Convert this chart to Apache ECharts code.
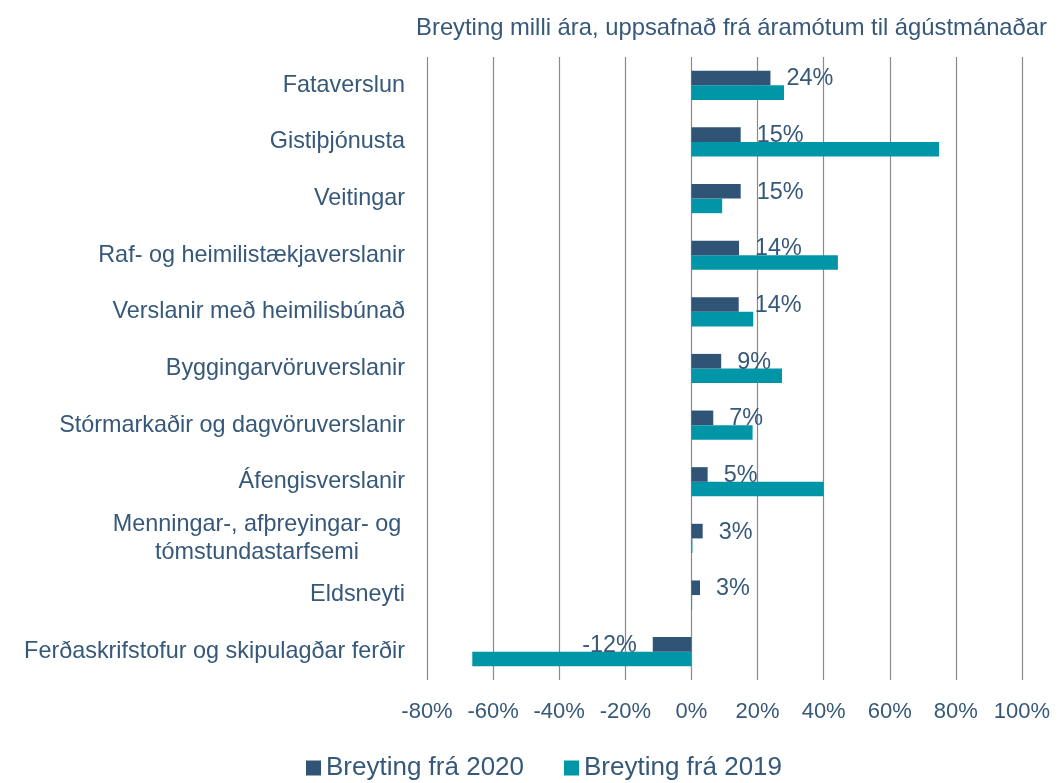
<!DOCTYPE html>
<html>
<head>
<meta charset="utf-8">
<script src="https://cdn.jsdelivr.net/npm/echarts@6/dist/echarts.min.js"></script>
<style>html,body{margin:0;padding:0;background:#fff}#c{width:1061px;height:783px}</style>
</head>
<body>
<div id="c"></div>
<script>
const categories = [
  "Fataverslun",
  "Gistiþjónusta",
  "Veitingar",
  "Raf- og heimilistækjaverslanir",
  "Verslanir með heimilisbúnað",
  "Byggingarvöruverslanir",
  "Stórmarkaðir og dagvöruverslanir",
  "Áfengisverslanir",
  "Menningar-, afþreyingar- og\ntómstundastarfsemi",
  "Eldsneyti",
  "Ferðaskrifstofur og skipulagðar ferðir"
];
const change2020 = [23.9, 14.9, 14.9, 14.4, 14.3, 9.0, 6.6, 4.9, 3.4, 2.6, -11.7];
const change2019 = [28.0, 74.9, 9.3, 44.3, 18.7, 27.4, 18.5, 40.0, 0.3, 0.2, -66.3];
const seriesNames = ["Breyting frá 2020", "Breyting frá 2019"];
const titleText = "Breyting milli ára, uppsafnað frá áramótum til ágústmánaðar";
const xMin = -80, xMax = 100, xStep = 20;

const textColor = '#365879';
const font = 'Liberation Sans, Arial, sans-serif';

const chart = echarts.init(document.getElementById('c'));
chart.setOption({
  animation: false,
  backgroundColor: '#ffffff',
  title: {
    text: titleText,
    right: 9, top: 11,
    textStyle: { fontFamily: font, fontSize: 23.8, fontWeight: 'normal', color: textColor }
  },
  legend: {
    data: seriesNames,
    left: 306, top: 755,
    padding: 0,
    itemWidth: 15, itemHeight: 15, itemGap: 40,
    icon: 'rect',
    textStyle: { fontFamily: font, fontSize: 26, color: textColor }
  },
  grid: { left: 427, right: 39, top: 57, bottom: 103 },
  xAxis: {
    type: 'value', min: xMin, max: xMax, interval: xStep,
    axisLine: { show: false }, axisTick: { show: false },
    splitLine: { show: true, lineStyle: { color: '#8a8a8a', width: 1.2 } },
    axisLabel: {
      margin: 21, fontFamily: font, fontSize: 22, color: textColor,
      formatter: v => v + '%'
    }
  },
  yAxis: {
    type: 'category', data: categories, inverse: true,
    axisLine: { show: false }, axisTick: { show: false },
    axisLabel: {
      margin: 22, fontFamily: font, fontSize: 23.4, color: textColor, lineHeight: 28,
      formatter: function (v) {
        if (v.indexOf('\n') >= 0) {
          return v.split('\n').map(s => '{c|' + s + '}').join('\n');
        }
        return v;
      },
      rich: { c: { width: 296, align: 'center', fontFamily: font, fontSize: 23.4, color: textColor, lineHeight: 28 } }
    }
  },
  series: [
    {
      name: seriesNames[0], type: 'bar', barWidth: 14.6, barGap: '0%',
      itemStyle: { color: '#2F5475' },
      data: change2020.map(v => ({ value: v, label: { position: v < 0 ? 'left' : 'right' } })),
      label: {
        show: true, distance: 16, fontFamily: font, fontSize: 23.4, color: textColor,
        offset: [0, 1],
        formatter: p => Math.round(p.value) + '%'
      },
      z: 3
    },
    {
      name: seriesNames[1], type: 'bar', barWidth: 14.6, barGap: '0%',
      itemStyle: { color: '#0096A8' },
      data: change2019,
      z: 2
    }
  ]
});
</script>
</body>
</html>
